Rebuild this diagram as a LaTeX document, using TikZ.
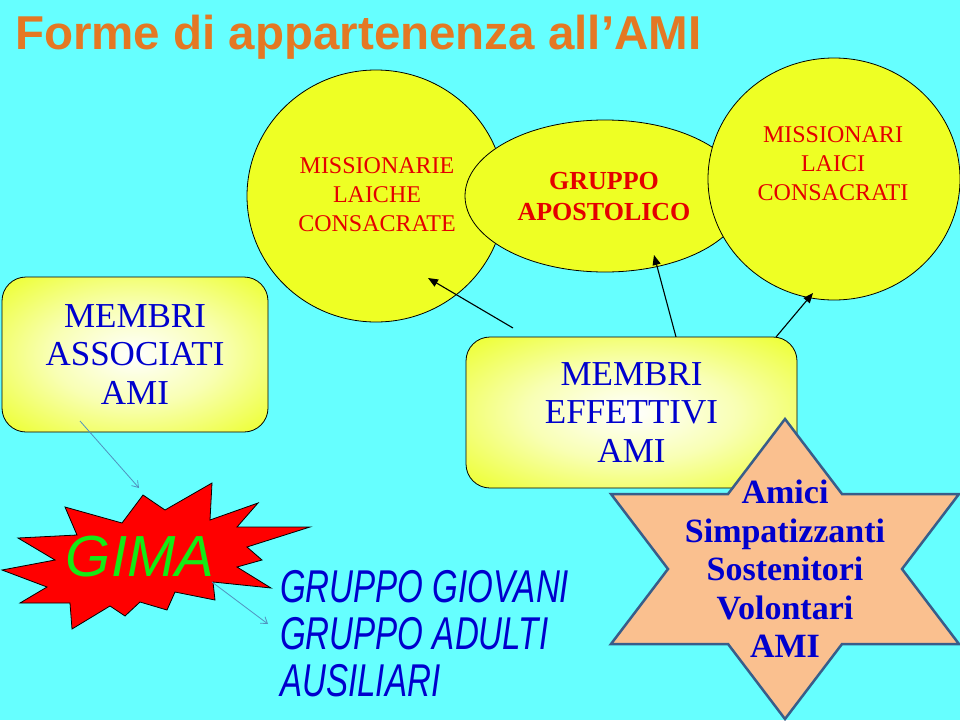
\documentclass[tikz,border=0pt]{standalone}
\usepackage{fontspec}
\setmainfont{Liberation Serif}
\newfontfamily\titlefont{Liberation Sans}
\newfontfamily\handfont{Liberation Sans}
\usetikzlibrary{shapes.geometric,arrows.meta}
\definecolor{bgcyan}{RGB}{102,255,255}
\definecolor{ballyellow}{RGB}{238,255,36}
\definecolor{boxyellow}{RGB}{236,255,40}
\definecolor{txtblue}{RGB}{0,0,205}
\definecolor{txtred}{RGB}{228,0,0}
\definecolor{peach}{RGB}{250,192,143}
\definecolor{starline}{RGB}{56,93,138}
\definecolor{thinarrow}{RGB}{80,145,190}
\definecolor{gimared}{RGB}{255,0,0}
\definecolor{gimagreen}{RGB}{20,235,20}
\definecolor{ttlorange}{RGB}{228,120,35}
\pgfdeclareradialshading{boxglow}{\pgfpoint{0bp}{0bp}}{color(0bp)=(white); color(16bp)=(white!65!boxyellow); color(36bp)=(boxyellow); color(50bp)=(boxyellow)}
\begin{document}
\begin{tikzpicture}[x=1pt,y=-1pt,
  ball/.style={ellipse, draw=black, line width=0.8pt, fill=ballyellow, inner sep=0pt},
  balltext/.style={text=txtred, align=center, inner sep=0pt, font=\fontsize{24pt}{29pt}\selectfont},
  membox/.style={rectangle, rounded corners=24pt, draw=black, line width=0.8pt, shade, shading=boxglow, text=txtblue, align=center, inner sep=0pt, font=\fontsize{35pt}{38.5pt}\selectfont},
  blackarrow/.style={-{Triangle[length=10pt,width=8pt]}, line width=1.1pt, black},
  thinarr/.style={-{Straight Barb[length=6pt,width=8pt]}, line width=0.8pt, thinarrow},
  titletext/.style={anchor=base west, inner sep=0pt, font=\titlefont\bfseries\fontsize{47.5pt}{50pt}\selectfont}
]
\useasboundingbox (0,0) rectangle (960,720);
\fill[bgcyan] (0,0) rectangle (960,720);

% title
\node[titletext, text=ttlorange] (title) at (15,49) {Forme di appartenenza all’AMI};

% yellow circles
\node[ball, minimum width=258pt, minimum height=252pt] (mlc) at (376,196) {};
\node[ball, minimum width=280pt, minimum height=152pt] (ga) at (605,196) {};
\node[ball, minimum width=252pt, minimum height=242pt] (mlcons) at (834,179) {};
\node[balltext] (mlctxt) at (377,195) {MISSIONARIE\\LAICHE\\CONSACRATE};
\node[balltext, font=\bfseries\fontsize{26pt}{31pt}\selectfont] (gatxt) at (604,196.5) {GRUPPO\\APOSTOLICO};
\node[balltext] (mlconstxt) at (833,163.5) {MISSIONARI\\LAICI\\CONSACRATI};

% black arrows
\coordinate (a1s) at (513,328);
\coordinate (a1e) at (428,278);
\coordinate (a2s) at (676,337);
\coordinate (a2e) at (654,255);
\coordinate (a3s) at (776,337);
\coordinate (a3e) at (813,293);
\draw[blackarrow] (a1s) -- (a1e);
\draw[blackarrow] (a2s) -- (a2e);
\draw[blackarrow] (a3s) -- (a3e);

% member boxes
\node[membox, minimum width=266pt, minimum height=155pt] (assoc) at (135,354.5) {MEMBRI\\ASSOCIATI\\AMI};
\node[membox, minimum width=331pt, minimum height=151pt] (eff) at (631.5,412.5) {MEMBRI\\EFFETTIVI\\AMI};

% hexagram
\draw[fill=peach, draw=starline, line width=2.5pt, line join=miter]
  (785,419) -- (842,494) -- (959,494) -- (902,569) -- (959,644) -- (842,644)
  -- (785,719) -- (728,644) -- (611,644) -- (668,569) -- (611,494) -- (728,494) -- cycle;
\node[text=txtblue, align=center, inner sep=0pt, font=\bfseries\fontsize{34pt}{38.5pt}\selectfont] (amici) at (785,569) {Amici\\Simpatizzanti\\Sostenitori\\Volontari\\AMI};

% GIMA burst
\draw[fill=gimared, draw=black, line width=0.8pt, line join=miter]
  (212,483) -- (210,520) -- (258,503) -- (237,527) -- (310,527) -- (247,547)
  -- (262,560) -- (237,567) -- (271,588) -- (213,582) -- (215,600) -- (175,592)
  -- (167,610) -- (140,602) -- (125,616) -- (110,606) -- (72,629) -- (70,603)
  -- (20,603) -- (47,587) -- (2,570) -- (55,560) -- (18,538) -- (77,535)
  -- (65,507) -- (122,523) -- (143,495) -- (165,510) -- cycle;
\node[text=gimagreen, inner sep=0pt, font=\handfont\itshape\fontsize{58pt}{58pt}\selectfont] (gima) at (140,557) {GIMA};

% groups text
\node[anchor=north west, align=left, inner sep=0pt, text=txtblue, font=\handfont\itshape\fontsize{46pt}{47pt}\selectfont] (gruppi) at (280,570)
  {\scalebox{0.72}[1]{GRUPPO GIOVANI}\\\scalebox{0.72}[1]{GRUPPO ADULTI}\\\scalebox{0.72}[1]{AUSILIARI}};

% thin arrows
\coordinate (t1s) at (80,421);
\coordinate (t1e) at (139,488);
\coordinate (t2s) at (212,582);
\coordinate (t2e) at (268,624);
\draw[thinarr] (t1s) -- (t1e);
\draw[thinarr] (t2s) -- (t2e);
\end{tikzpicture}
\end{document}
